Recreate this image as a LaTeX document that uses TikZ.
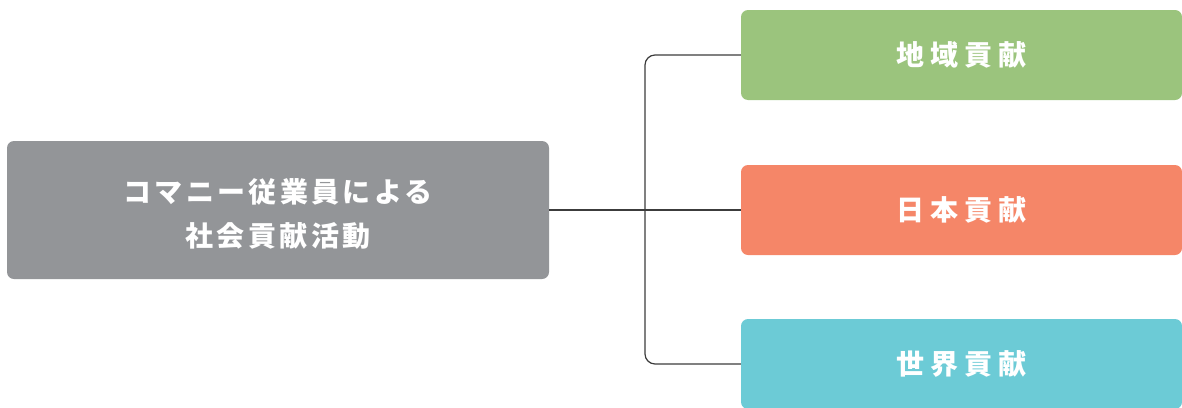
\documentclass[tikz,border=0pt]{standalone}
\usepackage{fontspec}
\newfontfamily\jpl[LetterSpace=12]{Noto Sans CJK JP}
\newfontfamily\jpr[LetterSpace=21]{Noto Sans CJK JP}
\definecolor{boxgray}{HTML}{939598}
\definecolor{boxgreen}{HTML}{9BC47D}
\definecolor{boxorange}{HTML}{F58668}
\definecolor{boxcyan}{HTML}{6CCBD6}
\definecolor{linegray}{HTML}{3C3C3C}
\begin{document}
\begin{tikzpicture}[x=1pt,y=-1pt,
  box/.style={rounded corners=7pt, inner sep=0pt, text=white, align=center},
  mainbox/.style={box, fill=boxgray, minimum width=542pt, minimum height=138pt, font=\jpl\bfseries\fontsize{28}{44}\selectfont},
  subbox/.style={box, minimum width=441pt, minimum height=90pt, font=\jpr\bfseries\fontsize{28}{30}\selectfont},
  conn/.style={draw=linegray, line width=1.2pt, rounded corners=10pt}]
\useasboundingbox (0,0) rectangle (1182,407);
\node[mainbox] (main) at (278,210) {\raisebox{-6pt}[\height][\depth]{\begin{tabular}{@{}c@{}}コマニー従業員による\\社会貢献活動\end{tabular}}};
\node[subbox, fill=boxgreen] (b1) at (961.5,55) {地域貢献};
\node[subbox, fill=boxorange] (b2) at (961.5,210) {日本貢献};
\node[subbox, fill=boxcyan] (b3) at (961.5,364) {世界貢献};
\coordinate (j) at (645,210);
\draw[conn] (main.east) -- (b2.west);
\draw[conn] (b1.west) -| (j) |- (b3.west);
\end{tikzpicture}
\end{document}
